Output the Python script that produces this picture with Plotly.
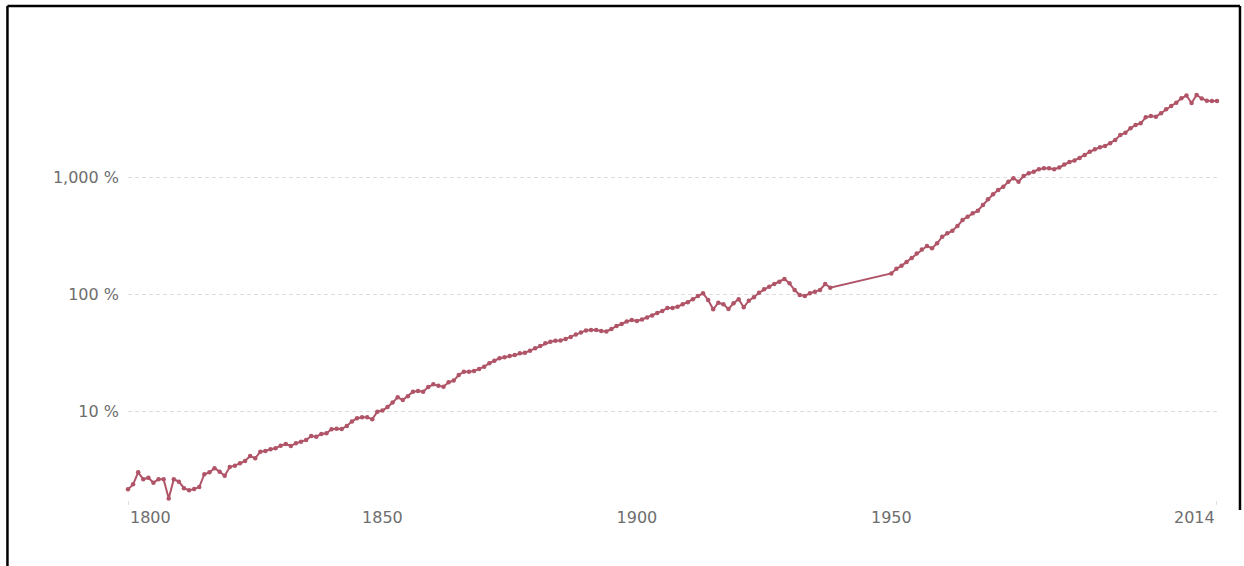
import plotly.graph_objects as go

# Annual series, 1800-1938 and 1950-2014 (no observations for 1939-1949)
years = list(range(1800, 1939)) + list(range(1950, 2015))

values_1800_1849 = [
    2.14, 2.36, 2.99, 2.61, 2.69, 2.44, 2.61, 2.61, 1.79, 2.61,
    2.49, 2.19, 2.10, 2.15, 2.24, 2.88, 2.99, 3.24, 3.03, 2.80,
    3.32, 3.41, 3.57, 3.74, 4.13, 3.94, 4.49, 4.55, 4.71, 4.80,
    5.05, 5.22, 5.02, 5.30, 5.47, 5.65, 6.11, 6.03, 6.36, 6.45,
    6.98, 7.06, 7.02, 7.44, 8.14, 8.66, 8.84, 8.84, 8.49, 9.86,
]
values_1850_1899 = [
    10.1, 10.8, 11.8, 13.1, 12.4, 13.4, 14.6, 14.8, 14.6, 16.0,
    16.9, 16.4, 16.1, 17.6, 18.2, 20.3, 21.7, 21.7, 22.0, 22.9,
    23.9, 25.6, 26.9, 28.2, 28.8, 29.5, 30.1, 31.1, 31.5, 32.8,
    34.4, 35.9, 37.9, 39.1, 39.9, 40.1, 41.3, 42.9, 45.1, 46.9,
    48.8, 49.2, 49.2, 48.3, 47.8, 50.2, 53.3, 55.4, 58.2, 60.0,
]
values_1900_1938 = [
    58.8, 60.6, 63.0, 65.5, 68.8, 71.6, 75.9, 75.9, 77.9, 81.7,
    84.9, 90.1, 96.1, 101.4, 88.9, 74.0, 84.3, 81.7, 74.4, 83.3,
    90.1, 77.0, 87.6, 93.7, 102.6, 109.7, 115.5, 121.8, 127.4, 134.4,
    123.4, 108.2, 98.1, 96.1, 101.4, 104.6, 108.2, 121.8, 113.2,
]
values_1950_2014 = [
    150, 164, 174, 188, 203, 222, 240, 257, 246, 271,
    309, 330, 348, 381, 429, 458, 490, 515, 576, 645,
    711, 774, 826, 912, 975, 912, 1020, 1075, 1110, 1164,
    1187, 1187, 1164, 1206, 1279, 1343, 1384, 1453, 1542, 1645,
    1725, 1794, 1841, 1941, 2072, 2286, 2391, 2608, 2782, 2877,
    3237, 3322, 3277, 3503, 3790, 4045, 4315, 4705, 4973, 4291,
    5022, 4688, 4488, 4463, 4463,
]
values = values_1800_1849 + values_1850_1899 + values_1900_1938 + values_1950_2014

y_ticks = [10, 100, 1000]
y_tick_labels = ["10 %", "100 %", "1,000 %"]
x_ticks = [1850, 1900, 1950]
x_tick_labels = ["1850", "1900", "1950"]
x_start, x_end = 1800, 2014

LINE = "#b05468"
TEXT = "#6e6e6e"
FONT = "DejaVu Sans"

fig = go.Figure(
    go.Scatter(
        x=years,
        y=values,
        mode="lines+markers",
        line=dict(color=LINE, width=2),
        marker=dict(color=LINE, size=4.5),
        cliponaxis=False,
        hovertemplate="%{x}: %{y:,.1f} %<extra></extra>",
    )
)

fig.update_xaxes(
    range=[x_start, x_end],
    tickvals=x_ticks,
    ticktext=x_tick_labels,
    showgrid=False,
    zeroline=False,
    showline=False,
    ticks="",
    ticklabelstandoff=6,
    tickfont=dict(family=FONT, size=16, color=TEXT),
)
fig.update_yaxes(
    type="log",
    range=[0.2393, 4.0],
    tickvals=y_ticks,
    ticktext=y_tick_labels,
    showgrid=True,
    gridcolor="#dcdcdc",
    griddash="4px,3px",
    gridwidth=1,
    zeroline=False,
    showline=False,
    ticks="",
    ticklabelstandoff=8,
    tickfont=dict(family=FONT, size=16, color=TEXT),
)

# End-of-range year labels sit flush with the plot edges
annotations = [
    dict(x=x_start, y=0, xref="x", yref="paper", text=str(x_start),
         xanchor="left", yanchor="top", yshift=-6, showarrow=False,
         font=dict(family=FONT, size=16, color=TEXT)),
    dict(x=x_end, y=0, xref="x", yref="paper", text=str(x_end),
         xanchor="right", yanchor="top", yshift=-6, showarrow=False,
         font=dict(family=FONT, size=16, color=TEXT)),
]

shapes = [
    # small tick marks at both ends of the time axis
    dict(type="line", xref="x", yref="paper", x0=x_start, x1=x_start,
         y0=-0.002, y1=-0.011, line=dict(color="#bbbbbb", width=1)),
    dict(type="line", xref="x", yref="paper", x0=x_end, x1=x_end,
         y0=-0.002, y1=-0.011, line=dict(color="#bbbbbb", width=1)),
    # outer frame
    dict(type="line", xref="paper", yref="paper", x0=-0.1107, x1=-0.1107,
         y0=1.1227, y1=-0.20, line=dict(color="black", width=2.5)),
    dict(type="line", xref="paper", yref="paper", x0=-0.1107, x1=1.0211,
         y0=1.1227, y1=1.1227, line=dict(color="black", width=2.5)),
    dict(type="line", xref="paper", yref="paper", x0=1.0211, x1=1.0211,
         y0=1.1227, y1=-0.023, line=dict(color="black", width=2.5)),
]

fig.update_layout(
    width=1244,
    height=566,
    margin=dict(l=128, r=27, t=60, b=66),
    paper_bgcolor="white",
    plot_bgcolor="white",
    showlegend=False,
    annotations=annotations,
    shapes=shapes,
)

fig.write_html("out.html")
